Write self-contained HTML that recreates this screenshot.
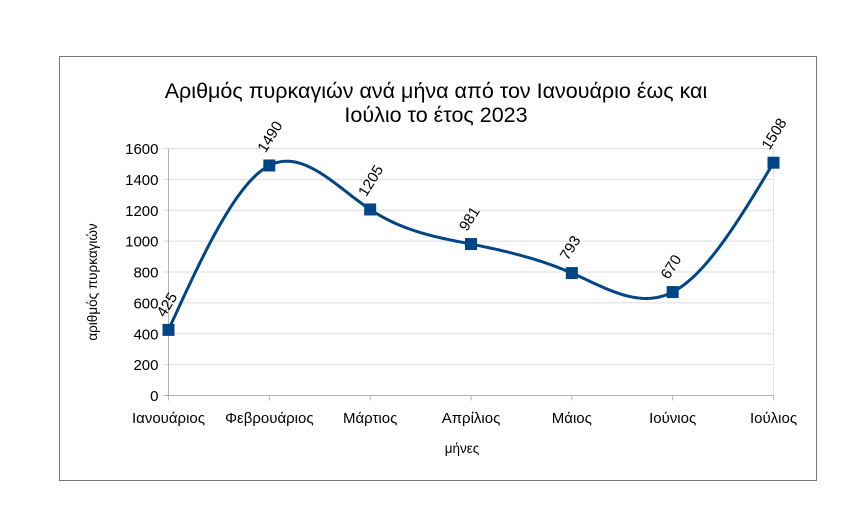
<!DOCTYPE html>
<html><head><meta charset="utf-8"><style>
body{margin:0;background:#fff;}
svg text{font-family:"Liberation Sans",sans-serif;fill:#000;}
</style></head><body>
<svg id="c" width="862" height="515">
<rect x="59.5" y="56.5" width="757" height="424" fill="#fff" stroke="#777"/>
<text x="436" y="98" font-size="21.5" text-anchor="middle">Αριθμός πυρκαγιών ανά μήνα από τον Ιανουάριο έως και</text>
<text x="436" y="122" font-size="21.5" text-anchor="middle">Ιούλιο το έτος 2023</text>
<text x="97" y="282" font-size="13.5" text-anchor="middle" transform="rotate(-90 97 282)">αριθμός πυρκαγιών</text>
<text x="462" y="453" font-size="13.5" text-anchor="middle">μήνες</text>
<g id="grid"></g><g id="axes"></g><g id="series"></g>
</svg>
<script>
const categories=["Ιανουάριος","Φεβρουάριος","Μάρτιος","Απρίλιος","Μάιος","Ιούνιος","Ιούλιος"];
const values=[425,1490,1205,981,793,670,1508];
const yTicks=[0,200,400,600,800,1000,1200,1400,1600];
const NS="http://www.w3.org/2000/svg";
const x0=168.5,x1=773.5,yb=395.5,yt=148.5,ymax=1600;
const xs=i=>x0+(x1-x0)*i/(categories.length-1);
const ys=v=>yb-(yb-yt)*v/ymax;
function mk(t,a,p){const e=document.createElementNS(NS,t);for(const k in a)e.setAttribute(k,a[k]);p.appendChild(e);return e;}
const grid=document.getElementById('grid'),axes=document.getElementById('axes'),ser=document.getElementById('series');
yTicks.forEach(v=>{
 const l=mk('line',{x1:x0-5,x2:x1,y1:ys(v),y2:ys(v),stroke:v===0?'#b3b3b3':'#ddd'},grid);
 
 
 const t=mk('text',{x:x0-10,y:ys(v)+5.5,'font-size':15,'text-anchor':'end'},axes);
 t.textContent=v;
 
 
});
const ya=mk('line',{x1:x0,x2:x0,y1:yt,y2:yb,stroke:'#b3b3b3'},axes);


mk('line',{x1:x1,x2:x1,y1:yt,y2:yb,stroke:'#f2dede'},grid);
categories.forEach((c,i)=>{
 const tk=mk('line',{x1:xs(i),x2:xs(i),y1:yb,y2:yb+5,stroke:'#b3b3b3'},axes);
 
 
 const t=mk('text',{x:xs(i),y:423,'font-size':15,'text-anchor':'middle'},axes);
 t.textContent=c;
 
 
});
const n=values.length,X=values.map((v,i)=>xs(i)),Y=values.map(ys);
const h=[],al=[],l=[1],mu=[0],z=[0],cc=new Array(n).fill(0);
for(let i=0;i<n-1;i++)h.push(X[i+1]-X[i]);
for(let i=1;i<n-1;i++)al[i]=3/h[i]*(Y[i+1]-Y[i])-3/h[i-1]*(Y[i]-Y[i-1]);
for(let i=1;i<n-1;i++){l[i]=2*(X[i+1]-X[i-1])-h[i-1]*mu[i-1];mu[i]=h[i]/l[i];z[i]=(al[i]-h[i-1]*z[i-1])/l[i];}
z[n-1]=0;
for(let j=n-2;j>=0;j--)cc[j]=z[j]-mu[j]*cc[j+1];
let d="M"+X[0]+","+Y[0];
for(let j=0;j<n-1;j++){
 const b=(Y[j+1]-Y[j])/h[j]-h[j]*(cc[j+1]+2*cc[j])/3,dd=(cc[j+1]-cc[j])/(3*h[j]);
 for(let s=1;s<=30;s++){const t=h[j]*s/30;d+=" L"+(X[j]+t).toFixed(2)+","+(Y[j]+b*t+cc[j]*t*t+dd*t*t*t).toFixed(2);}
}
const p=mk('path',{d:d,fill:'none',stroke:'#004586','stroke-width':3},ser);


values.forEach((v,i)=>{
 const r=mk('rect',{x:X[i]-6,y:Y[i]-6,width:12,height:12,fill:'#004586'},ser);
 
 
 const t=mk('text',{x:X[i]-4,y:Y[i]-12,'font-size':15,transform:'rotate(-58 '+(X[i]-4)+' '+(Y[i]-12)+')'},ser);
 t.textContent=v;
 
 
});
</script>
</body></html>
